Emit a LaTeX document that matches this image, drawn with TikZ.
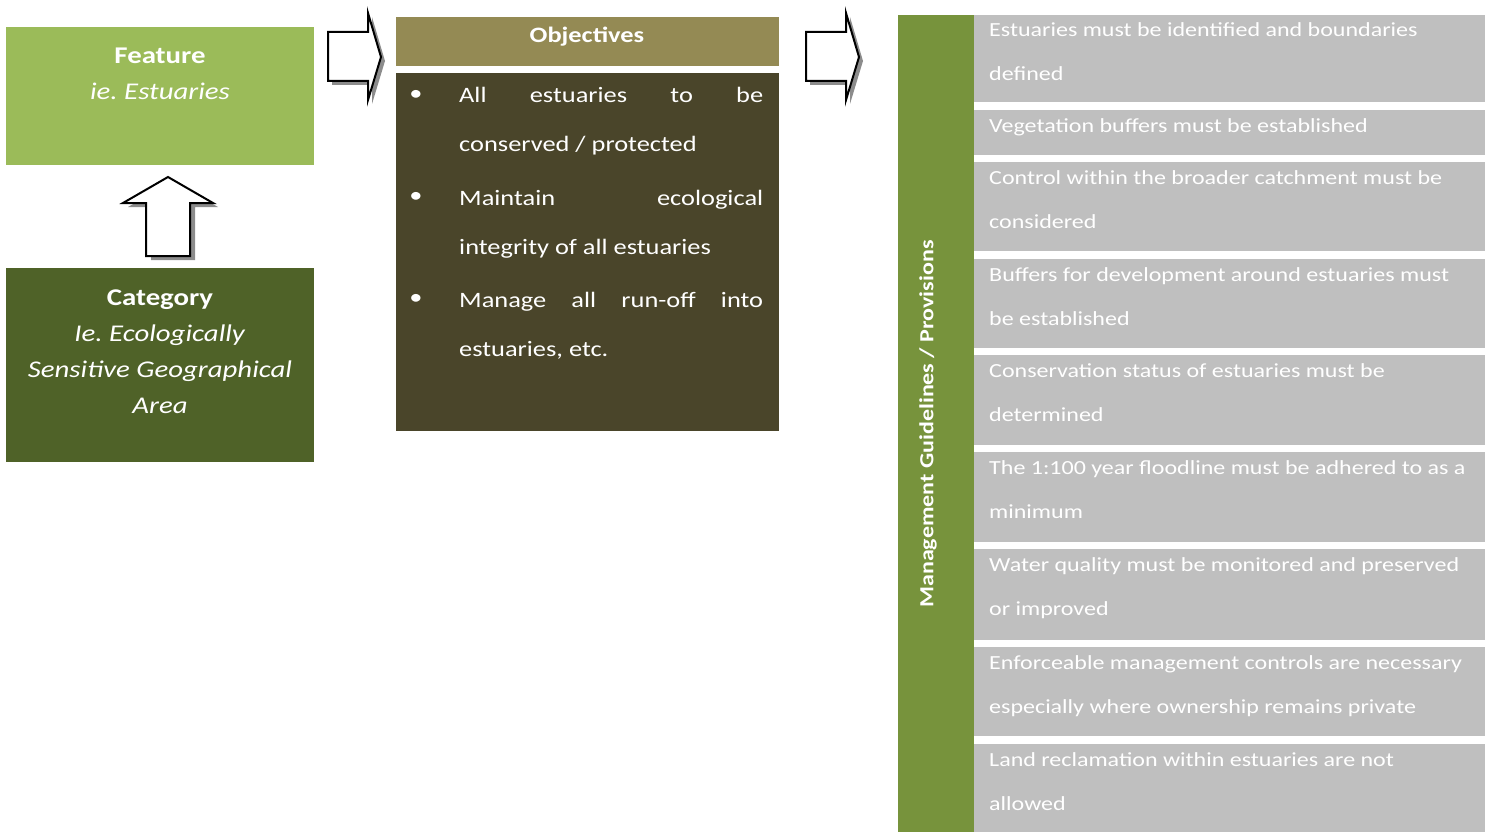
\documentclass[tikz,border=0pt]{standalone}
\usepackage{fontspec}
\setmainfont{Carlito}[FakeStretch=1.2]
\usepackage{xcolor}

\definecolor{featgreen}{HTML}{9BBB59}
\definecolor{catgreen}{HTML}{4F6228}
\definecolor{objhead}{HTML}{948A54}
\definecolor{objbody}{HTML}{4A452A}
\definecolor{mgmtgreen}{HTML}{77933C}
\definecolor{provgrey}{HTML}{BFBFBF}

\begin{document}
\begin{tikzpicture}[x=1pt, y=-1pt,
		box/.style={draw=none, anchor=north west, inner sep=0pt, outer sep=0pt},
		whitetxt/.style={text=white, inner sep=0pt},
		bodytxt/.style={whitetxt, anchor=base west, font=\fontsize{22}{26}\selectfont},
		provtxt/.style={whitetxt, anchor=base west, font=\fontsize{20}{24}\selectfont},
		blockarrow/.style={draw=black, line width=2pt, fill=white, line join=miter},
		arrowshade/.style={fill=black!45}]
		\useasboundingbox (0,0) rectangle (1491,832);
		
		% Feature block
		\node[box, fill=featgreen, minimum width=308pt, minimum height=138pt] (feature) at (6,27) {};
		\node[whitetxt, align=center, font=\fontsize{24}{36}\selectfont] (featuretxt) at (160,74)
			{\textbf{Feature}\\\textit{ie.\ Estuaries}};
		
		% Category block
		\node[box, fill=catgreen, minimum width=308pt, minimum height=194pt] (category) at (6,268) {};
		\node[whitetxt, align=center, font=\fontsize{24}{36}\selectfont] (categorytxt) at (160,352)
			{\textbf{Category}\\\textit{Ie.\ Ecologically}\\\textit{Sensitive Geographical}\\\textit{Area}};
		
		% Up arrow (category -> feature)
		\fill[arrowshade, shift={(5,4)}] (168,177) -- (213,203) -- (190,203) -- (190,256) -- (146,256) -- (146,203) -- (123,203) -- cycle;
		\draw[blockarrow] (168,177) -- (213,203) -- (190,203) -- (190,256) -- (146,256) -- (146,203) -- (123,203) -- cycle;
		
		% Right arrows
		\foreach \dx in {0,478} {
			\fill[arrowshade, shift={(\dx+4,4)}] (328,32) -- (368,32) -- (368,13) -- (381,57) -- (368,100) -- (368,81) -- (328,81) -- cycle;
			\draw[blockarrow, shift={(\dx,0)}] (328,32) -- (368,32) -- (368,13) -- (381,57) -- (368,100) -- (368,81) -- (328,81) -- cycle;
		}
		
		% Objectives
		\node[box, fill=objhead, minimum width=383pt, minimum height=49pt] (objhead) at (396,17) {};
		\node[whitetxt, font=\bfseries\fontsize{22}{26}\selectfont] (objtxt) at (587,37) {Objectives};
		\node[box, fill=objbody, minimum width=383pt, minimum height=358pt] (objbody) at (396,73) {};
		\foreach \y in {95,197,299}
			\node[bodytxt, anchor=center] at (416,\y) {\textbullet};
		\node[bodytxt] (obj1a) at (459,103) {\makebox[304pt][s]{All estuaries to be}};
		\node[bodytxt] (obj1b) at (459,152) {conserved / protected};
		\node[bodytxt] (obj2a) at (459,205) {\makebox[304pt][s]{Maintain ecological}};
		\node[bodytxt] (obj2b) at (459,254) {integrity of all estuaries};
		\node[bodytxt] (obj3a) at (459,307) {\makebox[304pt][s]{Manage all run-off into}};
		\node[bodytxt] (obj3b) at (459,356) {estuaries, etc.};
		
		% Management guidelines / provisions
		\node[box, fill=mgmtgreen, minimum width=76pt, minimum height=817pt] (mgmt) at (898,15) {};
		\node[whitetxt, rotate=90, font=\bfseries\fontsize{20}{24}\selectfont] (mgmttxt) at (928,424)
			{Management Guidelines / Provisions};
		
		\foreach \ya/\yb/\la/\lb [count=\i] in {
				15/102/{Estuaries must be identified and boundaries}/{defined},
				110/155/{Vegetation buffers must be established}/{},
				162/251/{Control within the broader catchment must be}/{considered},
				259/348/{Buffers for development around estuaries must}/{be established},
				355/445/{Conservation status of estuaries must be}/{determined},
				452/542/{The 1:100 year floodline must be adhered to as a}/{minimum},
				549/640/{Water quality must be monitored and preserved}/{or improved},
				647/736/{Enforceable management controls are necessary}/{especially where ownership remains private},
				744/832/{Land reclamation within estuaries are not}/{allowed}} {
			\node[box, fill=provgrey, minimum width=511pt, minimum height=\yb pt-\ya pt] (prov\i) at (974,\ya) {};
			\node[provtxt] (prov\i-a) at (989,\ya+22) {\la};
			\node[provtxt] (prov\i-b) at (989,\ya+66) {\lb};
		}
		
	\end{tikzpicture}
\end{document}
